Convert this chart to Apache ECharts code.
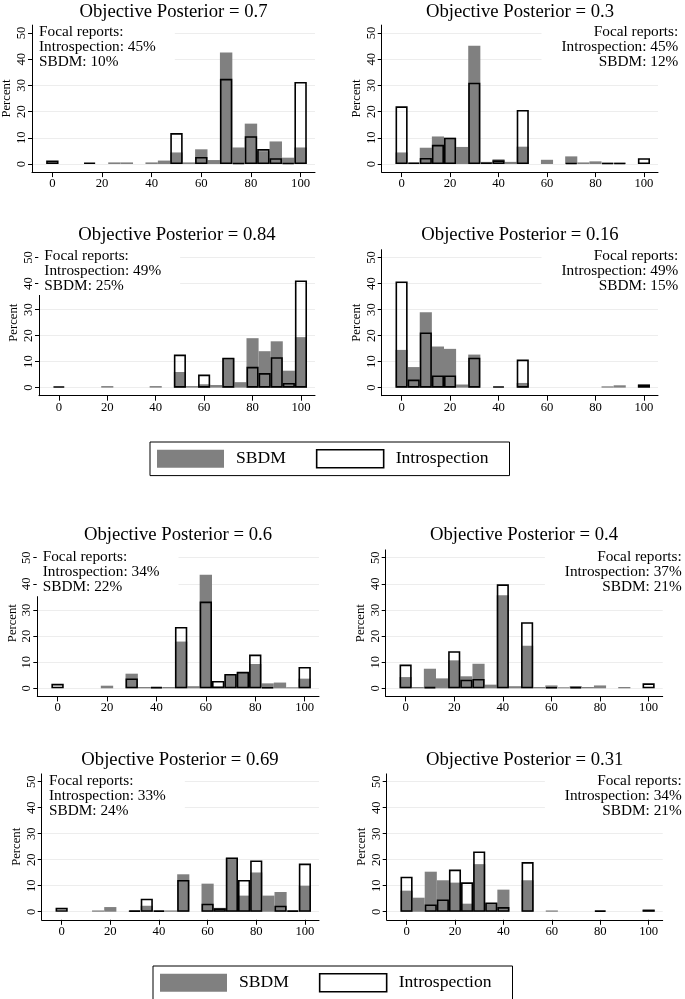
<!DOCTYPE html>
<html>
<head>
<meta charset="utf-8">
<script src="https://cdn.jsdelivr.net/npm/echarts@6/dist/echarts.min.js"></script>
<style>
html,body{margin:0;padding:0;background:#fff;}
#chart{width:685px;height:999px;}
</style>
</head>
<body>
<div id="chart"></div>
<script>
// ---- data ----
const bins = [0,5,10,15,20,25,30,35,40,45,50,55,60,65,70,75,80,85,90,95,100];
const xTicks = [0,20,40,60,80,100];
const yTicks = [0,10,20,30,40,50];
const panelTitles = ['Objective Posterior = 0.7','Objective Posterior = 0.3','Objective Posterior = 0.84','Objective Posterior = 0.16',
                     'Objective Posterior = 0.6','Objective Posterior = 0.4','Objective Posterior = 0.69','Objective Posterior = 0.31'];
const focalIntro = [45,45,49,49,34,37,33,34];
const focalSbdm  = [10,12,25,15,22,21,24,21];
const seriesNames = ['SBDM','Introspection'];

const sbdm_70 = [0,0,0,0,0,0.6,0.6,0,0.6,1.3,4.4,0.6,5.6,1.5,42.5,6.3,15.4,4.9,8.6,2.4,6.3];
const intro_70 = [1.3,0,0,0.5,0,0,0,0,0,0,11.8,0,2.7,0,32.5,0.4,10.6,5.7,2.2,0.4,31.3];
const sbdm_30 = [4.4,0.5,6.2,10.5,10,6.5,45.1,0.8,1.8,0.8,6.6,0,1.6,0,2.9,0.6,1.0,0.5,0.5,0,0];
const intro_30 = [22,0.5,2.3,7.3,10,0,31,0.5,1.4,0,20.6,0,0,0,0.4,0,0,0.4,0.4,0,2.2];
const sbdm_84 = [0,0,0,0,0.6,0,0,0,0.6,0,6.0,0.6,1.3,1.0,11.3,2.1,19,14,17.8,6.5,19.4];
const intro_84 = [0.5,0,0,0,0,0,0,0,0,0,12.7,0,5.0,0,11.5,0,8,5.6,11.7,1.8,41.2];
const sbdm_16 = [14.5,7.9,29,15.8,14.9,1.2,12.7,0,0,0,1.8,0,0,0,0,0,0,0.5,0.9,0,1.2];
const intro_16 = [40.8,3.1,21.2,4.7,4.7,0,11.5,0,0.5,0,10.8,0,0,0,0,0,0,0,0,0,1.2];
const sbdm_60 = [0,0,0,0,1.0,0,5.6,0.5,0.5,0.5,17.9,0.8,43.5,0.8,5.3,6.1,9.3,1.9,2.2,0.4,3.7];
const intro_60 = [1.7,0,0,0,0,0,3.8,0,0.5,0,23.5,0,33.2,2.8,5.5,6.3,12.9,0.4,0,0,8.2];
const sbdm_40 = [4.3,0.5,7.5,3.8,10.7,4.6,9.4,1.4,35.6,0.8,16.3,0.5,1.1,0.4,0.8,0.5,1.1,0,0.5,0,0];
const intro_40 = [9.1,0,0.5,0,14.2,3.3,3.6,0,39.8,0,25.3,0,0.4,0,0.5,0,0,0,0,0,1.9];
const sbdm_69 = [0,0,0,0.5,1.8,0,0.4,2.3,0,0.5,14.4,0,10.8,1.5,20.7,6.2,15.1,6.2,7.6,0.4,10];
const intro_69 = [1.5,0,0,0,0,0,0.5,5.0,0.5,0,12.2,0,3.1,1.3,20.9,12.2,19.7,0,2.3,0.5,18.5];
const sbdm_31 = [8.1,5.4,15.4,12.1,11.2,3.1,18.3,3.3,8.5,0,12.1,0,0.5,0,0,0,0,0,0,0,0.8];
const intro_31 = [13.5,0,2.8,4.7,16.2,11.3,23.2,3.6,1.8,0,19.1,0,0,0,0,0,0.5,0,0,0,0.8];

const sbdmSets  = [sbdm_70, sbdm_30, sbdm_84, sbdm_16, sbdm_60, sbdm_40, sbdm_69, sbdm_31];
const introSets = [intro_70, intro_30, intro_84, intro_16, intro_60, intro_40, intro_69, intro_31];

// ---- layout ----
const FONT = '"Liberation Serif","Times New Roman","DejaVu Serif",serif';
const grids = [
  {left:32,    top:25.1,  width:283,   height:147},
  {left:381.7, top:25.1,  width:276.3, height:147},
  {left:39,    top:249.7, width:276,   height:146},
  {left:381.7, top:249.7, width:276.3, height:146},
  {left:37.3,  top:549.9, width:281.7, height:146.5},
  {left:385.7, top:549.9, width:277,   height:146.5},
  {left:41.7,  top:773.9, width:277.3, height:145.9},
  {left:386.7, top:773.9, width:276,   height:145.9}
];
const titlePos = [[173.5,12.5],[520,12.5],[177,235],[520,235],[178,535],[524,535],[180,760],[524.7,760]];
const boxPos = [ // [x, middleY, side]
  [39,47,'left'],[678.3,47,'right'],[44.3,270.5,'left'],[678.3,270.5,'right'],
  [42.7,571.7,'left'],[681.7,571.7,'right'],[49,796,'left'],[681.7,796,'right']
];

const option = {
  animation:false,
  backgroundColor:'#fff',
  grid: grids.map(g => Object.assign({containLabel:false, outerBoundsMode:'none'}, g)),
  xAxis: grids.map((g,i) => ({
    type:'value', gridIndex:i, min:-8.2, max:105.8,
    axisLine:{show:true, onZero:false, lineStyle:{color:'#000', width:1}},
    axisTick:{show:true, length:5, customValues:xTicks, lineStyle:{color:'#000', width:1}},
    axisLabel:{show:true, customValues:xTicks, margin:5, color:'#000', fontSize:12.7, fontFamily:FONT},
    splitLine:{show:false}
  })),
  yAxis: grids.map((g,i) => ({
    type:'value', gridIndex:i, min:-3.1, max:53,
    name:'Percent', nameLocation:'middle', nameGap:18.5, nameMoveOverlap:false,
    nameTextStyle:{color:'#000', fontSize:12.7, fontFamily:FONT},
    axisLine:{show:true, onZero:false, lineStyle:{color:'#000', width:1}},
    axisTick:{show:true, length:4, customValues:yTicks, lineStyle:{color:'#000', width:1}},
    axisLabel:{show:true, customValues:yTicks, rotate:90, margin:4, color:'#000', fontSize:12.7, fontFamily:FONT},
    splitLine:{show:true, lineStyle:{color:'#ededed', width:1}}
  })),
  legend: [
    {left:150, top:442},
    {left:153, top:966}
  ].map(p => Object.assign({
    orient:'horizontal', padding:[7,21,7,7], itemGap:30, itemWidth:67, itemHeight:18,
    borderColor:'#000', borderWidth:1, backgroundColor:'#fff', selectedMode:false,
    textStyle:{color:'#000', fontSize:17.6, fontFamily:FONT, padding:[0,0,0,7]},
    data:[
      {name:seriesNames[0], icon:'rect', itemStyle:{color:'#808080', borderWidth:0}},
      {name:seriesNames[1], icon:'rect', itemStyle:{color:'#fff', borderColor:'#000', borderWidth:1.6}}
    ]
  }, p)),
  series: [],
  graphic: []
};

grids.forEach((g,i) => {
  const toData = arr => bins.map((b,j) => [b, arr[j] === 0 ? '-' : arr[j]]);
  option.series.push({
    name:seriesNames[0], type:'bar', xAxisIndex:i, yAxisIndex:i,
    barWidth:'100%', barGap:'-100%', z:2,
    itemStyle:{color:'#808080', borderWidth:0},
    data: toData(sbdmSets[i])
  });
  option.series.push({
    name:seriesNames[1], type:'bar', xAxisIndex:i, yAxisIndex:i,
    barWidth:'100%', barGap:'-100%', z:3,
    itemStyle:{color:'rgba(0,0,0,0)', borderColor:'#000', borderWidth:1.6},
    data: toData(introSets[i])
  });
  option.graphic.push({
    type:'text', z:20, x:titlePos[i][0], y:titlePos[i][1],
    style:{text:panelTitles[i], fill:'#000', fontSize:18.7, fontFamily:FONT, align:'center', verticalAlign:'middle'}
  });
  const bp = boxPos[i];
  const left = bp[2] === 'left';
  option.graphic.push({
    type:'text', z:15, x: left ? bp[0]-6 : bp[0]+2, y:bp[1],
    style:{
      text:'Focal reports:\nIntrospection: ' + focalIntro[i] + '%\nSBDM: ' + focalSbdm[i] + '%',
      fill:'#000', fontSize:15.3, fontFamily:FONT, lineHeight:15,
      align: left ? 'left' : 'right', verticalAlign:'middle',
      backgroundColor:'#fff', padding: left ? [2,19,2,6] : [2,2,2,20]
    }
  });
});

const chart = echarts.init(document.getElementById('chart'), null, {renderer:'canvas'});
chart.setOption(option);
</script>
</body>
</html>
